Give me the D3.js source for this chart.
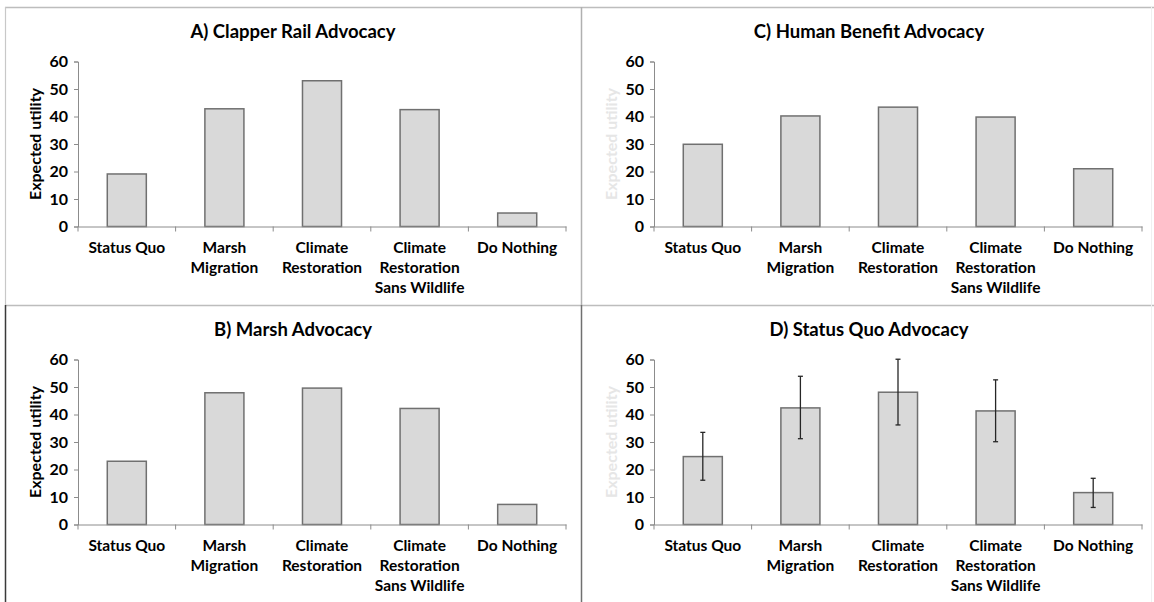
<!DOCTYPE html>
<html>
<head>
<meta charset="utf-8">
<script src="https://cdn.jsdelivr.net/npm/d3@7"></script>
<style>
html,body{margin:0;padding:0;background:#fff;}
svg{display:block;}
text{font-family:Lato,"Open Sans",sans-serif;font-weight:700;fill:#000;}
</style>
</head>
<body>
<svg id="chart" width="1154" height="602"></svg>
<script>
// ---- data ----
const categories = [
  ["Status Quo"],
  ["Marsh", "Migration"],
  ["Climate", "Restoration"],
  ["Climate", "Restoration", "Sans Wildlife"],
  ["Do Nothing"]
];
const categoryKeys = ["Status Quo", "Marsh Migration", "Climate Restoration", "Climate Restoration Sans Wildlife", "Do Nothing"];
const yTicks = [0, 10, 20, 30, 40, 50, 60];

const clapperRail = [19.1, 42.8, 53.0, 42.5, 4.9];
const humanBenefit = [29.9, 40.2, 43.4, 39.8, 21.0];
const marsh = [23.0, 47.9, 49.6, 42.2, 7.3];
const statusQuo = [24.7, 42.4, 48.1, 41.3, 11.6];
const statusQuoUpper = [33.5, 53.9, 60.1, 52.6, 16.8];
const statusQuoLower = [16.1, 31.2, 36.2, 30.1, 6.2];

const panelTitles = ["A) Clapper Rail Advocacy", "C) Human Benefit Advocacy", "B) Marsh Advocacy", "D) Status Quo Advocacy"];
const yTitle = "Expected utility";

const panels = [
  {title: panelTitles[0], values: clapperRail, ox: 5, oy: 7, yTitleColor: "#000"},
  {title: panelTitles[1], values: humanBenefit, ox: 581, oy: 7, yTitleColor: "#e6e6e6"},
  {title: panelTitles[2], values: marsh, ox: 5, oy: 305, yTitleColor: "#000"},
  {title: panelTitles[3], values: statusQuo, ox: 581, oy: 305, yTitleColor: "#e6e6e6", upper: statusQuoUpper, lower: statusQuoLower}
];

const svg = d3.select("#chart");

// frame lines
const frame = svg.append("g").attr("fill", "none");
frame.append("line").attr("x1", 5).attr("x2", 1154).attr("y1", 7.5).attr("y2", 7.5).attr("stroke", "#bdbdbd").attr("stroke-width", 1.5);
frame.append("line").attr("x1", 5).attr("x2", 1154).attr("y1", 305.5).attr("y2", 305.5).attr("stroke", "#bdbdbd").attr("stroke-width", 1.5);
frame.append("line").attr("x1", 5.5).attr("x2", 5.5).attr("y1", 7).attr("y2", 305).attr("stroke", "#c8c8c8").attr("stroke-width", 1.2);
frame.append("line").attr("x1", 5.5).attr("x2", 5.5).attr("y1", 305).attr("y2", 602).attr("stroke", "#3a3a3a").attr("stroke-width", 1.5);
frame.append("line").attr("x1", 581.5).attr("x2", 581.5).attr("y1", 7).attr("y2", 305).attr("stroke", "#b0b0b0").attr("stroke-width", 1.5);
frame.append("line").attr("x1", 581.5).attr("x2", 581.5).attr("y1", 305).attr("y2", 602).attr("stroke", "#707070").attr("stroke-width", 1.5);
frame.append("line").attr("x1", 1151.5).attr("x2", 1151.5).attr("y1", 7).attr("y2", 602).attr("stroke", "#f0f0f0").attr("stroke-width", 1);

const plotLeft = 73, plotRight = 561, plotTop = 54.5, plotBottom = 219.5;

panels.forEach(p => {
  const g = svg.append("g").attr("transform", `translate(${p.ox},${p.oy})`);
  const x = d3.scaleBand().domain(categoryKeys).range([plotLeft, plotRight]).paddingInner(0.6).paddingOuter(0.3);
  const xb = d3.scaleBand().domain(categoryKeys).range([plotLeft, plotRight]);
  const y = d3.scaleLinear().domain([0, 60]).range([plotBottom, plotTop]);

  // title
  g.append("text").attr("x", 288).attr("y", 30.5).attr("text-anchor", "middle")
    .style("font-size", "18.5px").text(p.title);

  // y axis title
  g.append("text")
    .attr("transform", `translate(30,${(plotTop + plotBottom) / 2}) rotate(-90)`)
    .attr("text-anchor", "middle").attr("dy", "0.35em")
    .style("font-size", "16px").style("fill", p.yTitleColor).text(yTitle);

  // bars
  g.selectAll("rect.bar").data(p.values).join("rect")
    .attr("class", "bar")
    .attr("x", (d, i) => x(categoryKeys[i]))
    .attr("width", x.bandwidth())
    .attr("y", d => y(d))
    .attr("height", d => y(0) - y(d))
    .attr("fill", "#d9d9d9").attr("stroke", "#707070").attr("stroke-width", 1.5);

  // error bars
  if (p.upper) {
    const eg = g.append("g").attr("stroke", "#262626").attr("stroke-width", 1.3);
    p.values.forEach((v, i) => {
      const cx = x(categoryKeys[i]) + x.bandwidth() / 2;
      eg.append("line").attr("x1", cx).attr("x2", cx).attr("y1", y(p.upper[i])).attr("y2", y(p.lower[i]));
      eg.append("line").attr("x1", cx - 2.5).attr("x2", cx + 2.5).attr("y1", y(p.upper[i])).attr("y2", y(p.upper[i]));
      eg.append("line").attr("x1", cx - 2.5).attr("x2", cx + 2.5).attr("y1", y(p.lower[i])).attr("y2", y(p.lower[i]));
    });
  }

  // y axis
  const ya = g.append("g").attr("transform", `translate(${plotLeft},0)`)
    .call(d3.axisLeft(y).tickValues(yTicks).tickSize(4).tickPadding(6));
  ya.select(".domain").attr("stroke", "#8c8c8c").attr("stroke-width", 1);
  ya.selectAll(".tick line").attr("stroke", "#8c8c8c");
  ya.selectAll(".tick text").style("font-size", "16px").style("font-family", "Lato,sans-serif").style("font-weight", 700).attr("fill", "#000");

  // x axis
  const xa = g.append("g").attr("transform", `translate(0,${plotBottom})`)
    .call(d3.axisBottom(xb).tickSize(0).tickFormat(() => ""));
  xa.select(".domain").attr("stroke", "#8c8c8c").attr("stroke-width", 1);
  xa.selectAll(".tick").remove();
  // category boundary ticks
  const bounds = categoryKeys.map(k => xb(k)).concat([plotRight]);
  xa.selectAll("line.bt").data(bounds).join("line").attr("class", "bt")
    .attr("x1", d => d).attr("x2", d => d).attr("y1", 0).attr("y2", 5)
    .attr("stroke", "#8c8c8c");

  // category labels
  categories.forEach((lines, i) => {
    const cx = xb(categoryKeys[i]) + xb.bandwidth() / 2;
    const t = g.append("text").attr("text-anchor", "middle").style("font-size", "15.5px");
    lines.forEach((ln, j) => {
      t.append("tspan").attr("x", cx).attr("y", plotBottom + 26 + j * 20).text(ln);
    });
  });
});
</script>
</body>
</html>
